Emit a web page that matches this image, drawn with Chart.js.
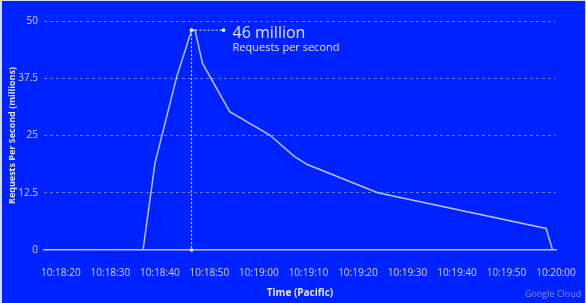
<!DOCTYPE html>
<html>
<head>
<meta charset="utf-8">
<script src="https://cdn.jsdelivr.net/npm/chart.js@4"></script>
<style>
  body { margin: 0; background: #d9dde6; }
  #wrap { position: absolute; left: 2px; top: 1px; width: 583px; height: 302px; background: #0022ff; }
  #logo { position: absolute; left: 523px; top: 286px; font: 9px "Open Sans", sans-serif; color: #7f8cff; white-space: nowrap; }
</style>
</head>
<body>
<div id="wrap">
  <canvas id="myChart"></canvas>
  <div id="logo">Google Cloud</div>
</div>
<script>
// seconds after 10:18:00
const times = [17, 36.6, 39.0, 43.4, 46.4, 47.1, 48.6, 54.1, 62.2, 67.2, 69.9, 84.0, 118.0, 119.3];
const requests = [0, 0, 18.9, 37.8, 48, 48, 40.8, 30.2, 25.1, 20.4, 18.6, 12.5, 4.7, 0];
const tickSeconds = [20, 30, 40, 50, 60, 70, 80, 90, 100, 110, 120];
const tickLabels = ["10:18:20", "10:18:30", "10:18:40", "10:18:50", "10:19:00", "10:19:10",
  "10:19:20", "10:19:30", "10:19:40", "10:19:50", "10:20:00"];
const yTicks = [0, 12.5, 25, 37.5, 50];
const peakLabel = "46 million";
const peakSub = "Requests per second";

const lineColor = "rgba(200, 212, 255, 0.9)";

const peakNote = {
  id: "peakNote",
  afterDatasetsDraw(chart) {
    const ctx = chart.ctx;
    const xs = chart.scales.x, ys = chart.scales.y;
    const i = requests.indexOf(Math.max(...requests));
    const px = xs.getPixelForValue(times[i]);
    const py = ys.getPixelForValue(requests[i]);
    const by = ys.getPixelForValue(0);
    ctx.save();
    ctx.strokeStyle = "#e6eaff";
    ctx.fillStyle = "#ffffff";
    ctx.lineWidth = 1;
    ctx.setLineDash([2, 2]);
    ctx.beginPath();
    ctx.moveTo(px, py);
    ctx.lineTo(px, by);
    ctx.moveTo(px, py);
    ctx.lineTo(px + 32, py);
    ctx.stroke();
    ctx.setLineDash([]);
    [[px, py], [px, by], [px + 32, py]].forEach(([x, y]) => {
      ctx.beginPath();
      ctx.arc(x, y, 1.8, 0, Math.PI * 2);
      ctx.fill();
    });
    ctx.fillStyle = "#dfe4ff";
    ctx.textBaseline = "alphabetic";
    ctx.font = "16px 'Open Sans', sans-serif";
    ctx.fillText(peakLabel, px + 41, py + 8);
    ctx.font = "11px 'Open Sans', sans-serif";
    ctx.fillText(peakSub, px + 41, py + 21);
    ctx.restore();
  }
};

new Chart(document.getElementById("myChart"), {
  type: "line",
  data: {
    datasets: [{
      data: times.map((t, i) => ({ x: t, y: requests[i] })),
      borderColor: lineColor,
      borderWidth: 1.5,
      pointRadius: 0,
      tension: 0,
      fill: false,
    }],
  },
  options: {
    responsive: true,
    maintainAspectRatio: false,
    animation: false,
    layout: { padding: { top: 20, right: 29, left: 0, bottom: 0 } },
    plugins: { legend: { display: false }, tooltip: { enabled: false } },
    scales: {
      x: {
        type: "linear",
        min: 16.6,
        max: 120,
        afterBuildTicks: (s) => { s.ticks = tickSeconds.map((v) => ({ value: v })); },
        afterFit: (s) => { s.height = 53; },
        grid: { display: false },
        border: { color: lineColor, width: 1.5 },
        ticks: {
          color: "#cdd5ff",
          font: { family: "Open Sans", size: 10 },
          padding: 9,
          maxRotation: 0,
          autoSkip: false,
          callback: (v) => tickLabels[tickSeconds.indexOf(v)],
        },
        title: {
          display: true,
          text: "Time (Pacific)",
          color: "#dfe4ff",
          font: { family: "Open Sans", size: 10, weight: "bold" },
          padding: { top: 8 },
        },
      },
      y: {
        min: 0,
        max: 50,
        afterBuildTicks: (s) => { s.ticks = yTicks.map((v) => ({ value: v })); },
        afterFit: (s) => { s.width = 42; },
        grid: {
          color: (c) => (c.tick && c.tick.value === 0 ? "rgba(0,0,0,0)" : "rgba(140, 160, 255, 0.7)"),
          drawTicks: false,
        },
        border: { display: false, dash: [3, 3] },
        ticks: {
          color: "#cdd5ff",
          font: { family: "Open Sans", size: 10 },
          padding: 6,
        },
        title: {
          display: true,
          text: "Requests Per Second (millions)",
          color: "#dfe4ff",
          font: { family: "Open Sans", size: 9, weight: "bold" },
          padding: { top: 5, bottom: 0 },
        },
      },
    },
  },
  plugins: [peakNote],
});
</script>
</body>
</html>
